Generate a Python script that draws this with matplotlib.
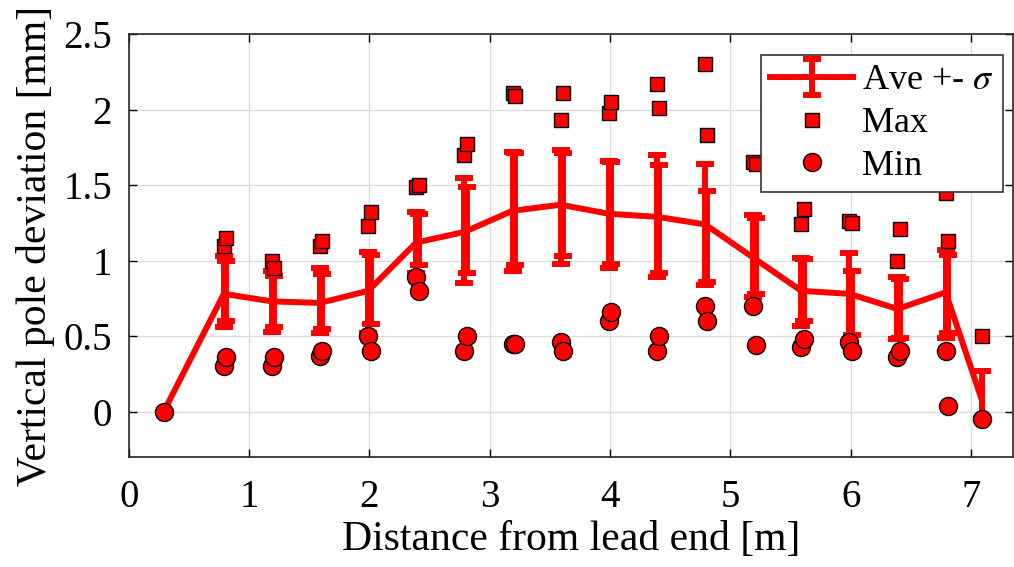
import numpy as np
import matplotlib
matplotlib.use("Agg")
import matplotlib.pyplot as plt

plt.rcParams["font.family"] = ["Liberation Serif", "DejaVu Serif"]
plt.rcParams["mathtext.fontset"] = "stix"

# measuring stations along the magnet [m]
pos = [0.3, 0.8, 1.2, 1.6, 2.0, 2.4, 2.8, 3.2, 3.6, 4.0, 4.4, 4.8, 5.2, 5.6, 6.0, 6.4, 6.8, 7.1]

# average line and its +- sigma band (first set)
ave = [0.00, 0.78, 0.73, 0.72, 0.80, 1.12, 1.19, 1.33, 1.37, 1.31, 1.29, 1.24, 1.02, 0.80, 0.78, 0.68, 0.79, 0.08]
hi_a = [0.00, 1.03, 0.93, 0.95, 1.06, 1.32, 1.55, 1.72, 1.73, 1.66, 1.70, 1.64, 1.30, 1.02, 1.05, 0.89, 1.07, 0.27]
lo_a = [0.00, 0.56, 0.53, 0.52, 0.52, 0.92, 0.85, 0.93, 0.98, 0.95, 0.89, 0.84, 0.76, 0.57, 0.46, 0.48, 0.49, -0.04]

# second set of +- sigma bars
hi_b = [np.nan, 1.00, 0.90, 0.91, 1.04, 1.31, 1.49, 1.71, 1.71, 1.65, 1.63, 1.46, 1.28, 1.01, 0.93, 0.88, 1.04, np.nan]
lo_b = [np.nan, 0.60, 0.56, 0.55, 0.58, 0.97, 0.92, 0.97, 1.03, 0.98, 0.92, 0.86, 0.78, 0.60, 0.51, 0.49, 0.52, np.nan]

# maxima / minima, two runs per station
max_1 = [np.nan, 1.10, 1.00, 1.10, 1.23, 1.49, 1.70, 2.11, 1.93, 1.98, 2.17, 2.30, 1.65, 1.24, 1.26, 1.00, 1.45, 0.50]
max_2 = [np.nan, 1.15, 0.95, 1.13, 1.32, 1.50, 1.77, 2.09, 2.11, 2.05, 2.01, 1.83, 1.64, 1.34, 1.25, 1.21, 1.13, np.nan]
min_1 = [0.00, 0.30, 0.30, 0.37, 0.50, 0.89, 0.40, 0.45, 0.46, 0.60, 0.40, 0.70, 0.70, 0.43, 0.46, 0.36, 0.40, -0.05]
min_2 = [np.nan, 0.36, 0.36, 0.40, 0.40, 0.80, 0.50, 0.45, 0.40, 0.66, 0.50, 0.60, 0.44, 0.48, 0.40, 0.40, 0.04, np.nan]

x = np.array(pos)
ave = np.array(ave)
hi_a, lo_a = np.array(hi_a), np.array(lo_a)
hi_b, lo_b = np.array(hi_b), np.array(lo_b)
mid_b = (hi_b + lo_b) / 2

fig = plt.figure(figsize=(10.14, 5.67), dpi=100)
ax = fig.add_axes([0.127, 0.194, 0.872, 0.746])

red = "#ff0000"
lw = 4.3
eb = ax.errorbar(x - 0.01, ave, yerr=[ave - lo_a, hi_a - ave], color=red, lw=lw,
                 elinewidth=lw, capsize=6.5, capthick=lw, label="Ave +- $\\sigma$", zorder=3)
ax.errorbar(x + 0.01, mid_b, yerr=[mid_b - lo_b, hi_b - mid_b], fmt="none", ecolor=red,
            elinewidth=lw, capsize=6.5, capthick=lw, zorder=3)

hmax, = ax.plot(x - 0.01, max_1, "s", ms=10, mfc=red, mec="k", mew=1, label="Max", zorder=4)
ax.plot(x + 0.01, max_2, "s", ms=10, mfc=red, mec="k", mew=1, zorder=4)
hmin, = ax.plot(x - 0.01, min_1, "o", ms=13, mfc=red, mec="k", mew=1, label="Min", zorder=4)
ax.plot(x + 0.01, min_2, "o", ms=13, mfc=red, mec="k", mew=1, zorder=4)

ax.set_xlim(0, 7.35)
ax.set_ylim(-0.3, 2.5)
ax.set_xticks(range(0, 8))
ax.set_yticks([0, 0.5, 1, 1.5, 2, 2.5])
ax.set_yticklabels(["0", "0.5", "1", "1.5", "2", "2.5"])
ax.grid(True, color="#dcdcdc", lw=1)
ax.set_axisbelow(True)
ax.tick_params(direction="in", length=6, width=1, labelsize=28, top=True, right=True)
ax.tick_params(axis="x", pad=16)
ax.tick_params(axis="y", pad=12)
for s in ax.spines.values():
    s.set_linewidth(1.2)
    s.set_color("#262626")

ax.set_xlabel("Distance from lead end [m]", fontsize=30, labelpad=3)
ax.set_ylabel("Vertical pole deviation [mm]", fontsize=30, labelpad=6)

leg = ax.legend([eb, hmax, hmin], ["Ave +- $\\sigma$", "Max", "Min"], loc="upper right",
                bbox_to_anchor=(0.989, 0.95), fontsize=26, fancybox=False,
                edgecolor="#333333", framealpha=1, borderpad=0.25, handlelength=2.3,
                handletextpad=0.25, labelspacing=0.26, borderaxespad=0)
leg.get_frame().set_linewidth(1.2)

fig.savefig("out.png", dpi=100)
